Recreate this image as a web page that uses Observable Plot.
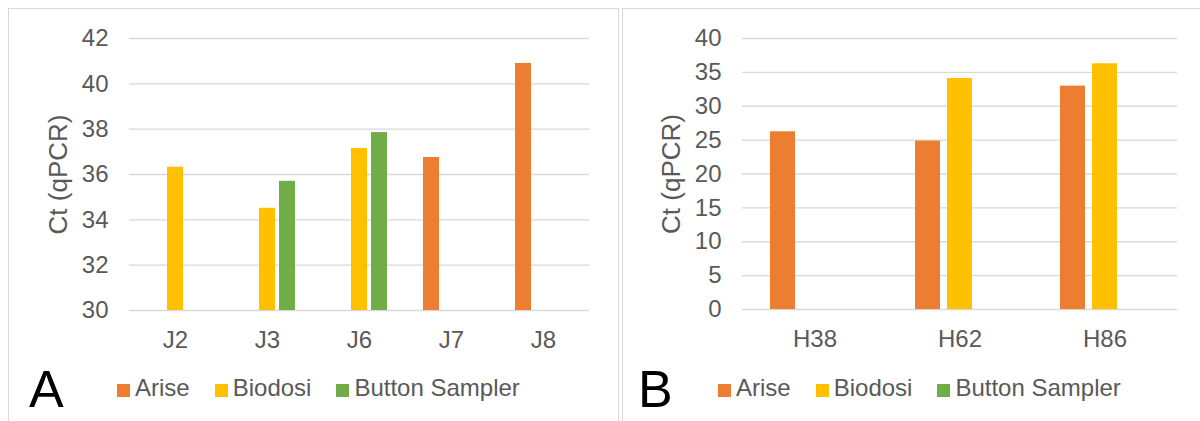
<!DOCTYPE html>
<html>
<head>
<meta charset="utf-8">
<script src="https://cdn.jsdelivr.net/npm/d3@7"></script>
<script src="https://cdn.jsdelivr.net/npm/@observablehq/plot@0.6"></script>
<style>
  html, body { margin: 0; padding: 0; background: #fff; }
  #root { position: relative; width: 1200px; height: 421px; overflow: hidden; font-family: "Liberation Sans", Arial, sans-serif; }
  .panel { position: absolute; border: 1.5px solid #d9d9d9; box-sizing: border-box; }
  .chart { position: absolute; top: 0; }
  .legend { position: absolute; display: flex; font-size: 24px; line-height: 28px; color: #595959; white-space: nowrap; }
  .legend .item { display: flex; margin-right: 25px; }
  .legend .sw { width: 13px; height: 13px; margin-top: 10px; margin-right: 5px; }
  .letter { position: absolute; font-size: 52px; line-height: 52px; color: #000; }
</style>
</head>
<body>
<div id="root">
  <div class="panel" style="left:8px; top:8px; width:611px; height:440px;"></div>
  <div class="panel" style="left:622px; top:8px; width:600px; height:440px;"></div>
  <div id="chartA" class="chart" style="left:0px;"></div>
  <div id="chartB" class="chart" style="left:620px;"></div>
  <div class="letter" style="left:29px; top:363px;">A</div>
  <div class="letter" style="left:638px; top:363px;">B</div>
  <div id="legendA" class="legend" style="left:117px; top:374px;"></div>
  <div id="legendB" class="legend" style="left:718px; top:374px;"></div>
</div>
<script>
// ---- data ----
const seriesNames = ["Arise", "Biodosi", "Button Sampler"];
const seriesColors = ["#ED7D31", "#FFC000", "#70AD47"];

const categoriesA = ["J2", "J3", "J6", "J7", "J8"];
const ariseA   = [null, null, null, 36.75, 40.9];
const biodosiA = [36.32, 34.51, 37.15, null, null];
const buttonA  = [null, 35.70, 37.85, null, null];
const yTicksA  = [30, 32, 34, 36, 38, 40, 42];

const categoriesB = ["H38", "H62", "H86"];
const ariseB   = [26.23, 24.86, 32.97];
const biodosiB = [null, 34.10, 36.27];
const buttonB  = [null, null, null];
const yTicksB  = [0, 5, 10, 15, 20, 25, 30, 35, 40];

const yLabel = "Ct (qPCR)";

function buildRows(cats, arise, biodosi, button) {
  const rows = [];
  const cols = [arise, biodosi, button];
  cats.forEach((c, i) => {
    cols.forEach((arr, s) => {
      if (arr[i] != null) rows.push({cat: c, series: seriesNames[s], value: arr[i]});
    });
  });
  return rows;
}

const FONT = '"Liberation Sans", Arial, sans-serif';

function makeChart(rows, cats, ticks, opts) {
  return Plot.plot({
    width: opts.width,
    height: 350,
    marginLeft: opts.marginLeft,
    marginRight: opts.marginRight,
    marginTop: 38,
    marginBottom: opts.marginBottom,
    style: {fontFamily: FONT, fontSize: "24px", color: "#595959", background: "transparent", overflow: "visible"},
    fx: {domain: cats, padding: 0, label: null},
    x: {domain: seriesNames, paddingInner: 0.21, paddingOuter: 0.87, axis: null},
    y: {domain: [ticks[0], ticks[ticks.length - 1]], label: null},
    color: {domain: seriesNames, range: seriesColors},
    marks: [
      Plot.gridY(ticks, {stroke: "#d9d9d9", strokeOpacity: 1, strokeWidth: 1.3}),
      Plot.barY(rows, {fx: "cat", x: "series", y1: ticks[0], y2: "value", fill: "series"}),
      Plot.axisY(ticks, {tickSize: 0, tickPadding: 21, label: null, fontSize: 24}),
      Plot.axisY([], {tickSize: 0, label: yLabel, labelAnchor: "center", labelOffset: 81, labelArrow: "none", fontSize: 26}),
      Plot.axisFx({anchor: "bottom", tickSize: 0, tickPadding: 20, label: null, fontSize: 24})
    ]
  });
}

document.getElementById("chartA").appendChild(
  makeChart(buildRows(categoriesA, ariseA, biodosiA, buttonA), categoriesA, yTicksA,
    {width: 620, marginLeft: 128, marginRight: 31, marginBottom: 40}));
document.getElementById("chartB").appendChild(
  makeChart(buildRows(categoriesB, ariseB, biodosiB, buttonB), categoriesB, yTicksB,
    {width: 580, marginLeft: 122, marginRight: 23, marginBottom: 41}));

function legend(id) {
  const el = document.getElementById(id);
  seriesNames.forEach((name, i) => {
    const item = document.createElement("div");
    item.className = "item";
    const sw = document.createElement("div");
    sw.className = "sw";
    sw.style.background = seriesColors[i];
    const t = document.createElement("span");
    t.textContent = name;
    item.appendChild(sw);
    item.appendChild(t);
    el.appendChild(item);
  });
}
legend("legendA");
legend("legendB");
</script>
</body>
</html>
